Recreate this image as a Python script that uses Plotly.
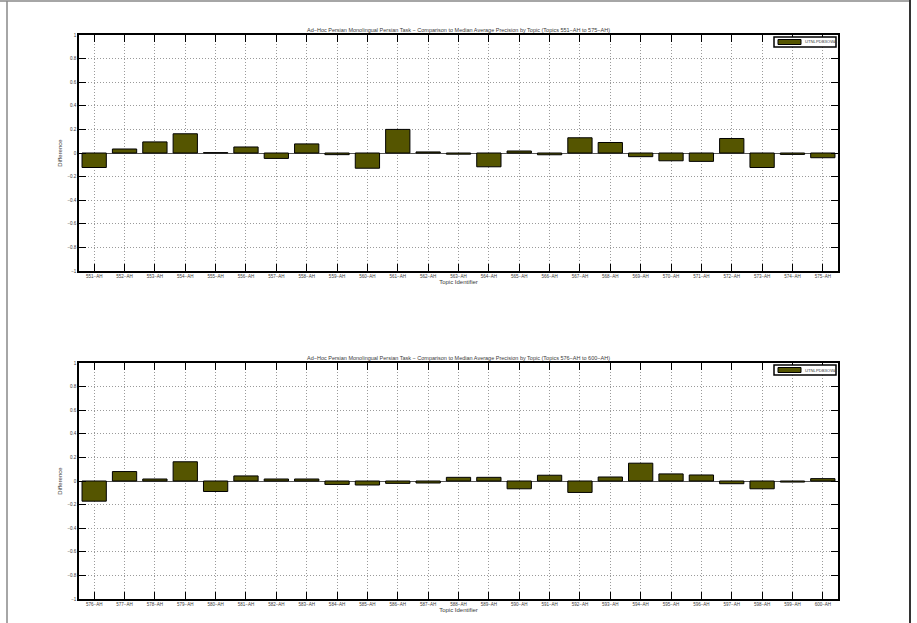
import plotly.graph_objects as go

topics_top = [f"{n}\u2212AH" for n in range(551, 576)]
topics_bottom = [f"{n}\u2212AH" for n in range(576, 601)]

diff_top = [-0.123, 0.034, 0.094, 0.163, 0.003, 0.051, -0.046, 0.077, -0.014, -0.129,
            0.200, 0.009, -0.010, -0.117, 0.017, -0.015, 0.129, 0.089, -0.031, -0.066,
            -0.071, 0.123, -0.123, -0.012, -0.040]
diff_bottom = [-0.171, 0.080, 0.017, 0.163, -0.089, 0.043, 0.017, 0.017, -0.029, -0.034,
               -0.020, -0.017, 0.031, 0.031, -0.066, 0.049, -0.097, 0.034, 0.151, 0.060,
               0.051, -0.023, -0.066, -0.009, 0.020]

run_name = "UTNLPDB3OWA"
title_top = "Ad\u2212Hoc Persian Monolingual Persian Task \u2212 Comparison to Median Average Precision by Topic (Topics 551\u2212AH to 575\u2212AH)"
title_bottom = "Ad\u2212Hoc Persian Monolingual Persian Task \u2212 Comparison to Median Average Precision by Topic (Topics 576\u2212AH to 600\u2212AH)"
y_ticks = [-1, -0.8, -0.6, -0.4, -0.2, 0, 0.2, 0.4, 0.6, 0.8, 1]
y_ticktext = ["\u22121", "\u22120.8", "\u22120.6", "\u22120.4", "\u22120.2", "0", "0.2", "0.4", "0.6", "0.8", "1"]

W, H = 917, 623
FONT = "Liberation Sans, Arial, sans-serif"
BAR = "#555500"
TXT = "#3a3a3a"
GRID = "#9a9a9a"

fig = go.Figure()
fig.add_trace(go.Bar(x=topics_top, y=diff_top, name=run_name, width=0.8, showlegend=False,
                     marker=dict(color=BAR, line=dict(color="black", width=1)),
                     xaxis="x", yaxis="y"))
fig.add_trace(go.Bar(x=topics_bottom, y=diff_bottom, name=run_name, width=0.8, showlegend=False,
                     marker=dict(color=BAR, line=dict(color="black", width=1)),
                     xaxis="x2", yaxis="y2"))

def px_x(v):
    return v / W

def px_y(v):
    return 1 - v / H

xdom = [px_x(79), px_x(838)]
top_dom = [px_y(271), px_y(35)]
bot_dom = [px_y(599), px_y(363)]

xax = dict(domain=xdom, type="category", range=[-0.5, 24.5], showline=True, linecolor="black",
           linewidth=1.5, mirror="ticks", ticks="inside", ticklen=7, tickwidth=1, tickcolor="black",
           showgrid=True, gridcolor=GRID, griddash="1px,2px", gridwidth=1, automargin=False,
           tickfont=dict(size=4.5, color=TXT, family=FONT), tickangle=0, zeroline=False,
           title=dict(text="Topic Identifier", font=dict(size=6, color=TXT, family=FONT), standoff=1))
yax = dict(range=[-1, 1], tickvals=y_ticks, ticktext=y_ticktext, showline=True, linecolor="black",
           linewidth=1.5, mirror="ticks", ticks="inside", ticklen=7, tickwidth=1, tickcolor="black",
           showgrid=True, gridcolor=GRID, griddash="1px,2px", gridwidth=1, automargin=False,
           zeroline=True, zerolinecolor="#555555", zerolinewidth=1,
           tickfont=dict(size=4.5, color=TXT, family=FONT),
           title=dict(text="Difference", font=dict(size=6, color=TXT, family=FONT), standoff=4))

shapes = [
    dict(type="line", xref="paper", yref="paper", x0=0, x1=px_x(910), y0=px_y(1), y1=px_y(1),
         line=dict(color="#888888", width=1.5)),
    dict(type="line", xref="paper", yref="paper", x0=px_x(7), x1=px_x(7), y0=0, y1=px_y(1),
         line=dict(color="#888888", width=1.5)),
    dict(type="line", xref="paper", yref="paper", x0=px_x(910), x1=px_x(910), y0=0, y1=1,
         line=dict(color="#333333", width=2)),
]
annotations = [
    dict(text=title_top, x=px_x(458.5), y=px_y(30), xref="paper", yref="paper",
         xanchor="center", yanchor="middle",
         showarrow=False, font=dict(size=5.5, color=TXT, family=FONT)),
    dict(text=title_bottom, x=px_x(458.5), y=px_y(358), xref="paper", yref="paper",
         xanchor="center", yanchor="middle",
         showarrow=False, font=dict(size=5.5, color=TXT, family=FONT)),
]

# legend boxes drawn manually (top-right inside each axes)
for top in (37, 365):
    shapes.append(dict(type="rect", xref="paper", yref="paper",
                       x0=px_x(774), x1=px_x(836), y0=px_y(top + 10), y1=px_y(top),
                       line=dict(color="black", width=1.5), fillcolor="white", layer="above"))
    shapes.append(dict(type="rect", xref="paper", yref="paper",
                       x0=px_x(778), x1=px_x(801), y0=px_y(top + 7.5), y1=px_y(top + 2.5),
                       line=dict(color="black", width=1), fillcolor=BAR, layer="above"))
    annotations.append(dict(text=run_name, x=px_x(803), y=px_y(top + 5), xref="paper", yref="paper",
                            xanchor="left", yanchor="middle", showarrow=False,
                            font=dict(size=4.2, color=TXT, family=FONT)))

fig.update_layout(
    width=W, height=H, margin=dict(l=0, r=0, t=0, b=0, autoexpand=False),
    paper_bgcolor="white", plot_bgcolor="white", bargap=0.2,
    font=dict(family=FONT), showlegend=False,
    xaxis=dict(xax, anchor="y"),
    yaxis=dict(yax, domain=top_dom, anchor="x"),
    xaxis2=dict(xax, anchor="y2"),
    yaxis2=dict(yax, domain=bot_dom, anchor="x2"),
    annotations=annotations,
    shapes=shapes,
)

fig.write_html("out.html", config={"displayModeBar": False},
               post_script="document.body.style.margin='0';document.body.style.overflow='hidden';")
